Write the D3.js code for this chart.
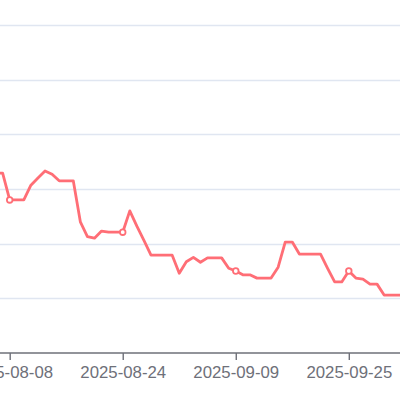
<!DOCTYPE html>
<html>
<head>
<meta charset="utf-8">
<script src="https://cdn.jsdelivr.net/npm/d3@7"></script>
<style>
html,body{margin:0;padding:0;background:#fff;}
svg{display:block;}
</style>
</head>
<body>
<svg id="chart" width="400" height="400"></svg>
<script>
const dates = [
"2025-08-06","2025-08-07","2025-08-08","2025-08-09","2025-08-10","2025-08-11","2025-08-12","2025-08-13","2025-08-14","2025-08-15",
"2025-08-16","2025-08-17","2025-08-18","2025-08-19","2025-08-20","2025-08-21","2025-08-22","2025-08-23","2025-08-24","2025-08-25",
"2025-08-26","2025-08-27","2025-08-28","2025-08-29","2025-08-30","2025-08-31","2025-09-01","2025-09-02","2025-09-03","2025-09-04",
"2025-09-05","2025-09-06","2025-09-07","2025-09-08","2025-09-09","2025-09-10","2025-09-11","2025-09-12","2025-09-13","2025-09-14",
"2025-09-15","2025-09-16","2025-09-17","2025-09-18","2025-09-19","2025-09-20","2025-09-21","2025-09-22","2025-09-23","2025-09-24",
"2025-09-25","2025-09-26","2025-09-27","2025-09-28","2025-09-29","2025-09-30","2025-10-01","2025-10-02","2025-10-03"
];
const values = [
3.29,3.29,2.80,2.80,2.80,3.07,3.20,3.33,3.27,3.15,
3.15,3.15,2.40,2.13,2.10,2.23,2.21,2.21,2.21,2.60,
2.32,2.06,1.79,1.79,1.79,1.79,1.46,1.67,1.75,1.66,
1.74,1.74,1.74,1.55,1.50,1.43,1.43,1.37,1.37,1.37,
1.57,2.03,2.03,1.81,1.81,1.81,1.81,1.55,1.30,1.30,
1.50,1.37,1.35,1.26,1.26,1.06,1.06,1.06,1.06
];
const tickLabels = ["2025-08-08","2025-08-24","2025-09-09","2025-09-25"];
const symbolDates = ["2025-08-08","2025-08-24","2025-09-09","2025-09-25"];
const gridValues = [1,2,3,4,5,6];

const parse = d3.utcParse("%Y-%m-%d");
const fmt = d3.utcFormat("%Y-%m-%d");
const data = dates.map((d,i)=>({date:parse(d), value:values[i]}));

const svg = d3.select("#chart");
const W = 400, H = 400;

const x = d3.scaleUtc()
  .domain([parse("2025-08-08"), parse("2025-09-25")])
  .range([9.7, 348.8]);
const y = d3.scaleLinear().domain([0,6]).range([353,25]);

// grid lines
svg.append("g").selectAll("line").data(gridValues).join("line")
  .attr("x1",0).attr("x2",W)
  .attr("y1",d=>Math.round(y(d))+0.5).attr("y2",d=>Math.round(y(d))+0.5)
  .attr("stroke","#e0e6f1").attr("stroke-width",1.4);

// x axis
const axis = d3.axisBottom(x)
  .tickValues(tickLabels.map(parse))
  .tickFormat(fmt)
  .tickSize(7)
  .tickPadding(6);
const gx = svg.append("g").attr("transform","translate(0,353)").call(axis);
gx.select(".domain").remove();
gx.append("line").attr("x1",0).attr("x2",W).attr("y1",0).attr("y2",0)
  .attr("stroke","#6e7079").attr("stroke-width",1.4);
gx.selectAll(".tick line").attr("stroke","#6e7079").attr("stroke-width",1.4);
gx.selectAll(".tick text")
  .attr("fill","#6e7079")
  .attr("font-family","'Liberation Sans', Arial, sans-serif")
  .attr("font-size","16.8px");

// line
const line = d3.line().x(d=>x(d.date)).y(d=>y(d.value));
svg.append("path").datum(data)
  .attr("d",line)
  .attr("fill","none")
  .attr("stroke","#ff6e76")
  .attr("stroke-width",2.8)
  .attr("stroke-linejoin","round");

// symbols
const symSet = new Set(symbolDates);
svg.append("g").selectAll("circle")
  .data(data.filter(d=>symSet.has(fmt(d.date))))
  .join("circle")
  .attr("cx",d=>x(d.date)).attr("cy",d=>y(d.value))
  .attr("r",2.8)
  .attr("fill","#fff")
  .attr("stroke","#ff6e76")
  .attr("stroke-width",1.8);
</script>
</body>
</html>
